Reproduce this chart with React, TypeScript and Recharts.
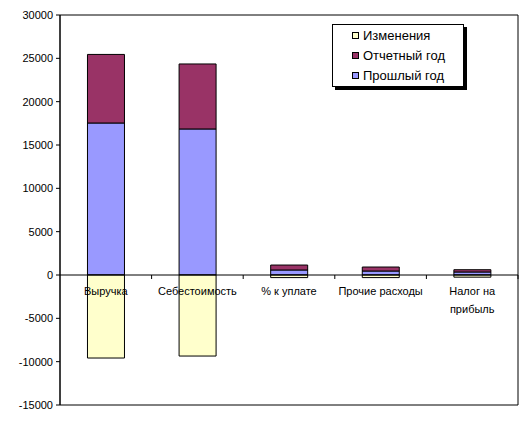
import { BarChart, Bar, XAxis, YAxis, ReferenceLine, ReferenceArea, Legend } from 'recharts';

const CATEGORIES = ['Выручка', 'Себестоимость', '% к уплате', 'Прочие расходы', 'Налог на прибыль'];
const PREV_YEAR = [17540, 16850, 580, 460, 350];
const CURRENT_YEAR = [7910, 7500, 570, 460, 260];
const CHANGES = [-9580, -9350, -300, -300, -250];
const Y_TICKS = [-15000, -10000, -5000, 0, 5000, 10000, 15000, 20000, 25000, 30000];

const SERIES = [
  { key: 'changes', name: 'Изменения', color: '#FFFFCC' },
  { key: 'current', name: 'Отчетный год', color: '#993366' },
  { key: 'prev', name: 'Прошлый год', color: '#9999FF' },
];

const data = CATEGORIES.map((name, i) => ({
  name,
  prev: PREV_YEAR[i],
  current: CURRENT_YEAR[i],
  changes: CHANGES[i],
}));

const W = 532;
const H = 421;
const TOP = 15;
const LEFT = 60;
const RIGHT = 14;
const BOTTOM = 16;
const Y_MIN = Y_TICKS[0];
const Y_MAX = Y_TICKS[Y_TICKS.length - 1];
const PLOT_H = H - TOP - BOTTOM;
const PLOT_W = W - LEFT - RIGHT;
const ZERO_Y = TOP + (PLOT_H * Y_MAX) / (Y_MAX - Y_MIN);
const BAND = PLOT_W / CATEGORIES.length;
const FONT = "Arial, 'Liberation Sans', sans-serif";

// excel wraps long category names onto a second line
const wrapLabel = (s: string) => {
  const lines: string[] = [];
  s.split(' ').forEach((w) => {
    const last = lines[lines.length - 1];
    if (last && (last + ' ' + w).length <= 15) lines[lines.length - 1] = last + ' ' + w;
    else lines.push(w);
  });
  return lines;
};

const CategoryTick = (props: any) => {
  const { x, payload } = props;
  const lines = wrapLabel(String(payload.value));
  return (
    <g>
      <line x1={x + BAND / 2} y1={ZERO_Y} x2={x + BAND / 2} y2={ZERO_Y + 4} stroke="#000" />
      <text x={x} y={ZERO_Y + 20} textAnchor="middle" fontSize={11} fill="#000" fontFamily={FONT}>
        {lines.map((l, i) => (
          <tspan key={i} x={x} dy={i === 0 ? 0 : 18}>
            {l}
          </tspan>
        ))}
      </text>
    </g>
  );
};

const LegendBox = () => (
  <div
    style={{
      width: 130,
      height: 61,
      border: '1px solid #000',
      boxShadow: '3px 3px 0 #000',
      background: '#fff',
      fontFamily: FONT,
      fontSize: 13,
      color: '#000',
    }}
  >
    {SERIES.map((s) => (
      <div key={s.key} style={{ height: 20, display: 'flex', alignItems: 'center', paddingLeft: 19 }}>
        <span
          style={{
            display: 'inline-block',
            width: 5,
            height: 5,
            border: '1px solid #000',
            background: s.color,
            marginRight: 4,
          }}
        />
        {s.name}
      </div>
    ))}
  </div>
);

const App = () => {
  return (
    <div style={{ position: 'absolute', left: 0, top: 0, background: '#fff' }}>
      <BarChart
        width={W}
        height={H}
        data={data}
        stackOffset="sign"
        barCategoryGap="30%"
        margin={{ top: TOP, right: RIGHT, bottom: 0, left: 0 }}
      >
        <ReferenceArea y1={Y_MIN} y2={Y_MAX} fill="#fff" fillOpacity={0} stroke="#000" />
        <XAxis dataKey="name" height={BOTTOM} axisLine={false} tickLine={false} tick={<CategoryTick />} interval={0} />
        <YAxis
          width={LEFT}
          domain={[Y_MIN, Y_MAX]}
          ticks={Y_TICKS}
          interval={0}
          axisLine={{ stroke: '#000' }}
          tickLine={{ stroke: '#000' }}
          tickSize={4}
          tickMargin={3}
          tick={{ fontSize: 11, fill: '#000', fontFamily: FONT }}
        />
        <Bar dataKey="prev" name="Прошлый год" stackId="a" fill="#9999FF" stroke="#000" isAnimationActive={false} />
        <Bar dataKey="current" name="Отчетный год" stackId="a" fill="#993366" stroke="#000" isAnimationActive={false} />
        <Bar dataKey="changes" name="Изменения" stackId="a" fill="#FFFFCC" stroke="#000" isAnimationActive={false} />
        <ReferenceLine y={0} stroke="#000" />
        <Legend
          layout="horizontal"
          verticalAlign="middle"
          align="center"
          content={<LegendBox />}
          wrapperStyle={{ left: 332, top: 24, width: 'auto', height: 'auto' }}
        />
      </BarChart>
    </div>
  );
};

export default App;
